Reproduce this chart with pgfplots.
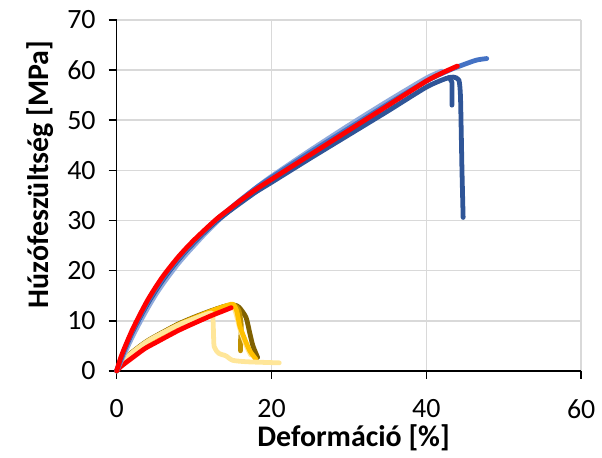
\documentclass[border=0pt]{standalone}
\usepackage{pgfplots}
\pgfplotsset{compat=1.18}
\usepackage{fontspec}
\setmainfont{Carlito}
\definecolor{dblue}{HTML}{2F5597}
\definecolor{mblue}{HTML}{4472C4}
\definecolor{lblue}{HTML}{8FAADC}
\definecolor{lyel}{HTML}{FFE699}
\definecolor{gold}{HTML}{FFC000}
\definecolor{dgold}{HTML}{BF9000}
\definecolor{olive}{HTML}{7F6000}
\definecolor{gridc}{HTML}{D9D9D9}
\begin{document}
\begin{tikzpicture}
\begin{axis}[
  name=ax,
  scale only axis, width=233pt, height=176pt,
  xmin=0, xmax=60, ymin=0, ymax=70,
  xtick={0,20,40,60}, ytick={0,10,...,70},
  axis x line=bottom, axis y line=left,
  axis line style={-, black, line width=0.8pt},
  tick style={black, line width=0.8pt},
  tick align=outside, major tick length=4pt,
  grid=major, major grid style={gridc, line width=0.8pt},
  ticklabel style={font=\fontsize{14}{16}\selectfont},
  yticklabel style={xshift=-3pt},
  xticklabel style={yshift=-7pt},
  /pgf/number format/assume math mode=true,
  xlabel={\textbf{Deformáció [\%]}},
  ylabel={\textbf{Húzófeszültség [MPa]}},
  label style={font=\fontsize{15}{17}\selectfont},
  xlabel style={at={(axis description cs:0.51,-0.19)}, anchor=center},
  ylabel style={at={(axis description cs:-0.165,0.56)}, anchor=center},
  clip=false,
  every axis plot/.append style={line width=2.4pt, line join=round, line cap=round, smooth, tension=0.4},
]
% lower group
\addplot[olive] coordinates {(0,0)(0.5,1.3)(1.5,3.1)(3.6,5.6)(5,6.9)(7.9,9.3)(10,10.7)(12.2,12)(14,12.9)(15.2,13.1)(15.8,12.7)(16.7,10.7)(17.2,7.5)(17.6,5)(18.2,2.7)};
\addplot[dgold] coordinates {(0,0)(0.5,1.3)(1.5,3)(3.6,5.5)(5,6.8)(7.9,9.2)(10,10.6)(12.2,11.9)(14,12.9)(15.2,13.1)(15.8,12)(16.1,9)(16,6)(16,4)};
\addplot[lyel] coordinates {(15,13.2)(15.4,11.5)(15.9,8.5)(16.6,5.5)(17.3,3.2)};
\addplot[gold] coordinates {(0,0)(0.5,1.2)(1.5,2.9)(3.6,5.4)(5,6.7)(7.9,9.1)(10,10.5)(12.2,11.9)(14,12.9)(15,13.3)(15.5,12)(15.9,9)(16.5,6.5)(17.2,4)(18,2.3)};
\addplot[lyel] coordinates {(0,0)(0.5,1.3)(1.5,3)(3.6,5.5)(5,6.8)(7.9,9.1)(10,10.4)(12,11.5)(12.4,11.2)(12.5,8)(12.6,4.8)(13.2,3.5)(14.1,3)(15,2.1)(17,1.8)(21,1.6)};
\addplot[red] coordinates {(0,0)(0.5,0.8)(1.5,2)(3.6,4.4)(5,5.6)(7.9,8)(10,9.5)(12.2,11)(14,12.1)(14.8,12.6)};
% upper group
\addplot[lblue] coordinates {(0,0)(1,3.4)(2,6.7)(3,9.7)(4,12.5)(5,15.1)(6,17.4)(7,19.5)(8,21.5)(9,23.3)(10,25)(11.5,27.5)(13,29.8)(14.5,31.9)(16,33.9)(18,36.5)(20,38.8)(25,44)(30,49)(35,53.8)(40,58.4)(42,59.8)};
\addplot[dblue] coordinates {(0,0)(1,4.1)(2,7.6)(3,10.6)(4,13.4)(5,15.9)(6,18.2)(7,20.3)(8,22.2)(9,24)(10,25.6)(11.5,27.9)(13,30)(14.5,31.8)(16,33.5)(18,35.7)(20,37.6)(25,42.4)(30,47.1)(35,51.8)(40,56.6)(42.5,58.3)(43.5,58.6)(44.2,58)(44.4,55)(44.5,48)(44.6,40)(44.75,30.6)};
\addplot[dblue] coordinates {(42.9,58.5)(43.3,57.6)(43.3,55)(43.3,53)};
\addplot[mblue] coordinates {(0,0)(1,4.2)(2,7.8)(3,10.8)(4,13.7)(5,16.2)(6,18.5)(7,20.5)(8,22.4)(9,24.2)(10,25.8)(11.5,28.1)(13,30.3)(14.5,32.2)(16,34.1)(18,36.5)(20,38.6)(25,43.6)(30,48.4)(35,53.2)(40,57.8)(43,60)(45,61.2)(46.5,62)(47.8,62.3)};
\addplot[red] coordinates {(0,0)(0.5,2.5)(1,4.5)(2,8.1)(3,11.2)(4,14.1)(5,16.6)(6,18.9)(7,20.9)(8,22.8)(9,24.5)(10,26.1)(11.5,28.3)(13,30.4)(14.5,32.2)(16,34)(18,36.2)(20,38.2)(25,43.1)(30,48)(35,52.9)(40,57.8)(42,59.4)(44,60.8)};
\end{axis}
\path (ax.south west) ++(-58.5pt,-42.5pt) rectangle ++(0.1pt,0.1pt);
\path (ax.north east) ++(9.5pt,10pt) rectangle ++(-0.1pt,-0.1pt);
\end{tikzpicture}
\end{document}
